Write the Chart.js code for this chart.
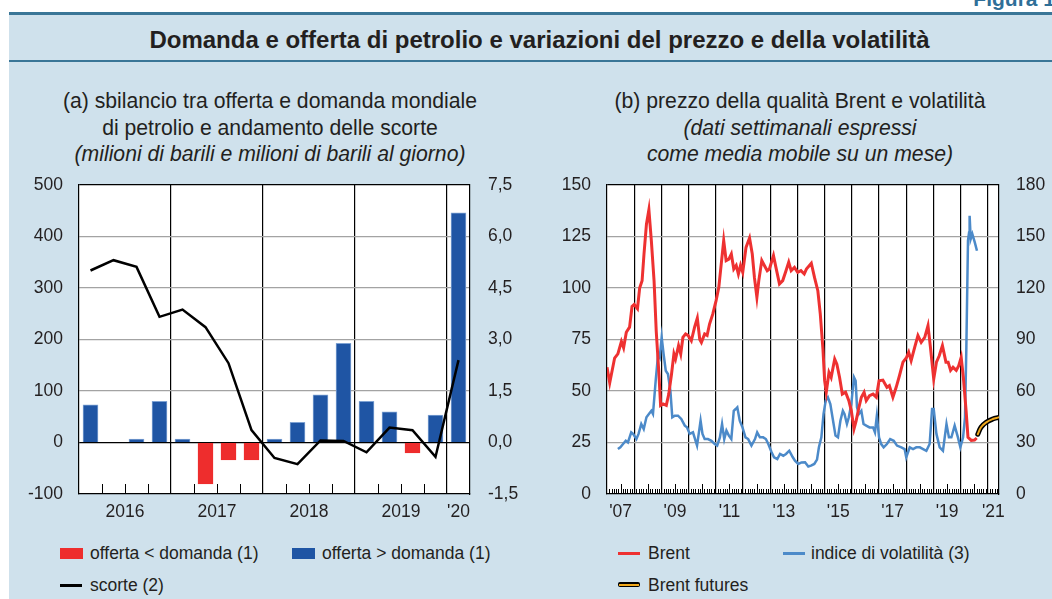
<!DOCTYPE html>
<html>
<head>
<meta charset="utf-8">
<script src="https://cdn.jsdelivr.net/npm/chart.js@4.4.1/dist/chart.umd.min.js"></script>
<style>
  body { margin: 0; width: 1052px; height: 599px; overflow: hidden; background: #fff;
         font-family: "Liberation Sans", Arial, sans-serif; color: #231f20; position: relative; }
  #panel { position: absolute; left: 9px; top: 12px; right: 0; bottom: 0; background: #cfe1ec;
           border-top: 3px solid #3a7697; z-index: 0; }
  #fig { position: absolute; right: -3px; top: -13px; font-weight: bold; font-size: 21px; color: #2f6f98; z-index: 1; }
  #title { position: absolute; left: 27px; right: 0; top: 26px; text-align: center; z-index: 1;
           font-weight: bold; font-size: 24px; line-height: 28px; }
  #rule { position: absolute; left: 9px; right: 0; top: 60px; height: 2px; background: #3a7697; z-index: 1; }
  .sub { position: absolute; top: 88px; text-align: center; font-size: 21.2px; line-height: 26.5px; z-index: 1; }
  .sub i { font-style: italic; }
  canvas { position: absolute; z-index: 3; }
  .plot { position: absolute; background-color: #ffffff; z-index: 2; }
  .leg { position: absolute; font-size: 17.5px; line-height: 20px; white-space: nowrap; z-index: 1; }
  .sw { position: absolute; z-index: 1; }
</style>
</head>
<body>
<div id="panel"></div>
<div id="fig">Figura 1</div>
<div id="title">Domanda e offerta di petrolio e variazioni del prezzo e della volatilità</div>
<div id="rule"></div>

<div class="sub" style="left:0;width:540px">(a) sbilancio tra offerta e domanda mondiale<br>di petrolio e andamento delle scorte<br><i>(milioni di barili e milioni di barili al giorno)</i></div>
<div class="sub" style="left:560px;width:480px">(b) prezzo della qualità Brent e volatilità<br><i>(dati settimanali espressi<br>come media mobile su un mese)</i></div>

<div class="plot" id="plotA"></div>
<div class="plot" id="plotB"></div>
<canvas id="left" width="540" height="370" style="left:0;top:170px"></canvas>
<canvas id="right" width="512" height="370" style="left:540px;top:170px"></canvas>

<!-- legends -->
<div class="sw" style="left:60px;top:548px;width:23px;height:11px;background:#ee2d2d"></div>
<div class="leg" style="left:90px;top:543px">offerta &lt; domanda (1)</div>
<div class="sw" style="left:292px;top:548px;width:23px;height:11px;background:#1f55a4"></div>
<div class="leg" style="left:322px;top:543px">offerta &gt; domanda (1)</div>
<div class="sw" style="left:60px;top:584px;width:22px;height:3px;background:#000"></div>
<div class="leg" style="left:90px;top:575px">scorte (2)</div>

<div class="sw" style="left:618px;top:552px;width:22px;height:3px;background:#ee3131"></div>
<div class="leg" style="left:648px;top:543px">Brent</div>
<div class="sw" style="left:783px;top:552px;width:22px;height:3px;background:#4c8ac9"></div>
<div class="leg" style="left:811px;top:543px">indice di volatilità (3)</div>
<div class="sw" style="left:618px;top:582px;width:22px;height:5px;background:#000;border-radius:2px"></div>
<div class="sw" style="left:619px;top:583.5px;width:20px;height:2px;background:#f0a81c"></div>
<div class="leg" style="left:648px;top:575px">Brent futures</div>

<script>
// ---- (a) quarterly balance (mb/d, right axis) and stocks (mb, left axis)
const quarters = ['I 2016', 'II 2016', 'III 2016', 'IV 2016',
                  'I 2017', 'II 2017', 'III 2017', 'IV 2017',
                  'I 2018', 'II 2018', 'III 2018', 'IV 2018',
                  'I 2019', 'II 2019', 'III 2019', 'IV 2019',
                  'I 2020'];
const balance = [1.10, null, 0.10, 1.20,
                 0.10, -1.21, -0.51, -0.51,
                 0.10, 0.59, 1.39, 2.89,
                 1.20, 0.89, -0.30, 0.80,
                 6.69];
const stocks = [334, 354, 341, 244,
                258, 224, 154, 24,
                -30, -42, 4, 3,
                -19, 29, 24, -28,
                160];
const yearLabelsA = { 1.5: '2016', 5.5: '2017', 9.5: '2018', 13.5: '2019', 16: "'20" };

// ---- (b) weekly Brent price (dollars), volatility index, futures
const brentDates = [
  2007.00, 2007.10, 2007.28, 2007.40, 2007.53, 2007.61, 2007.71, 2007.83, 2007.92,
  2008.00, 2008.12, 2008.20, 2008.29, 2008.36, 2008.45, 2008.54, 2008.63, 2008.73, 2008.81, 2008.91, 2008.97,
  2009.06, 2009.18, 2009.27, 2009.37, 2009.46, 2009.52, 2009.63, 2009.71, 2009.79, 2009.89, 2009.98,
  2010.10, 2010.22, 2010.32, 2010.41, 2010.47, 2010.59, 2010.68, 2010.77, 2010.89,
  2011.01, 2011.11, 2011.20, 2011.29, 2011.38, 2011.48, 2011.57, 2011.66, 2011.75, 2011.83, 2011.91, 2011.99,
  2012.11, 2012.24, 2012.34, 2012.42, 2012.51, 2012.58, 2012.69, 2012.79, 2012.89, 2012.97,
  2013.12, 2013.21, 2013.34, 2013.46, 2013.58, 2013.68, 2013.77, 2013.89,
  2014.01, 2014.13, 2014.25, 2014.33, 2014.51, 2014.63, 2014.75, 2014.84, 2014.94,
  2015.00, 2015.06, 2015.16, 2015.24, 2015.37, 2015.45, 2015.55, 2015.65, 2015.77, 2015.89, 2015.98,
  2016.08, 2016.16, 2016.26, 2016.35, 2016.45, 2016.53, 2016.65, 2016.78, 2016.90,
  2017.00, 2017.14, 2017.29, 2017.38, 2017.51, 2017.63, 2017.75, 2017.88,
  2018.00, 2018.09, 2018.18, 2018.31, 2018.43, 2018.55, 2018.68, 2018.80, 2018.89,
  2019.01, 2019.11, 2019.21, 2019.33, 2019.46, 2019.54, 2019.63, 2019.72, 2019.84, 2019.93,
  2020.02, 2020.10, 2020.20, 2020.27, 2020.39, 2020.51, 2020.59
];
const brentPrices = [
  61.5, 54, 66, 68, 74, 71, 78.5, 81, 91,
  92, 90, 100, 103.5, 116.5, 131, 138, 123, 103.5, 79, 58, 43,
  43.7, 43, 48.5, 58, 68, 65.5, 72, 68, 76, 77.7, 77,
  74.4, 81, 85.4, 75, 73.6, 77.7, 77, 82.5, 87.4,
  93.9, 100.3, 111.7, 123, 113.3, 114, 116.5, 109.2, 111, 106.8, 111, 107.6,
  119.7, 124.3, 116.5, 105, 95.5, 103.6, 113.3, 110.8, 108.4, 109.2,
  115.7, 110, 102, 103.6, 108.4, 112.5, 108.4, 110,
  107.6, 108.4, 106.8, 109.2, 112, 105, 98.7, 87.4, 70,
  55, 49.4, 59, 56.6, 65.5, 63, 56.6, 48.5, 49.4, 45.3, 40.5,
  31.6, 35.6, 42, 47, 49.4, 45.3, 47.7, 48.5, 47,
  55, 55.3, 51.8, 52.6, 47, 51.8, 57.4, 64,
  66, 68.8, 64.7, 71.2, 76.9, 73.6, 76, 81.7, 71.2,
  55.8, 64, 67, 72, 64, 64, 60, 61.5, 60, 62.3,
  66.3, 56.6, 40.5, 27.5, 26, 26.2, 27.2
];
const volDates = [
  2007.40, 2007.49, 2007.59, 2007.69, 2007.77, 2007.89, 2007.96,
  2008.08, 2008.16, 2008.26, 2008.35, 2008.45, 2008.54, 2008.63, 2008.69, 2008.79, 2008.88, 2008.94,
  2009.01, 2009.08, 2009.16, 2009.24, 2009.33, 2009.40, 2009.49, 2009.61, 2009.73, 2009.86, 2009.94,
  2010.04, 2010.16, 2010.31, 2010.44, 2010.51, 2010.59, 2010.71, 2010.84, 2010.96,
  2011.05, 2011.15, 2011.23, 2011.31, 2011.39, 2011.48, 2011.57, 2011.66, 2011.73, 2011.79, 2011.88, 2011.98,
  2012.09, 2012.19, 2012.31, 2012.44, 2012.52, 2012.62, 2012.74, 2012.84, 2012.93,
  2013.05, 2013.14, 2013.26, 2013.36, 2013.48, 2013.58, 2013.70, 2013.83, 2013.91,
  2014.03, 2014.15, 2014.28, 2014.40, 2014.50, 2014.62, 2014.72, 2014.79, 2014.88, 2014.96,
  2015.04, 2015.12, 2015.21, 2015.31, 2015.40, 2015.49, 2015.58, 2015.67, 2015.73, 2015.82, 2015.89, 2015.98,
  2016.08, 2016.14, 2016.19, 2016.26, 2016.35, 2016.43, 2016.53, 2016.65, 2016.78, 2016.85, 2016.92,
  2017.00, 2017.08, 2017.17, 2017.29, 2017.41, 2017.54, 2017.66, 2017.82, 2017.94,
  2018.00, 2018.13, 2018.25, 2018.37, 2018.50, 2018.62, 2018.74, 2018.86, 2018.95,
  2019.01, 2019.11, 2019.23, 2019.35, 2019.48, 2019.57, 2019.66, 2019.78, 2019.90, 2019.99,
  2020.09, 2020.16, 2020.21, 2020.27, 2020.31, 2020.33, 2020.37, 2020.43, 2020.52, 2020.60
];
const volIndex = [
  26.2, 27.2, 29.1, 31, 30, 35.9, 35,
  32, 35, 40.8, 37.9, 44.7, 46.6, 48.5, 46.6, 66, 81.6, 79.6,
  91.3, 81.6, 71.8, 69.9, 60.2, 44.7, 45.6, 45.6, 43.7, 39.8, 38.8,
  35, 35.9, 28.2, 42.7, 35, 32, 32, 31, 29.1,
  28.2, 33, 40.8, 32, 36.9, 34, 32, 48.5, 49.5, 50.5, 42.7, 38.8,
  33, 32, 28.2, 32, 35.9, 33, 33, 32, 29.1,
  24.3, 21.4, 20.4, 23.3, 22.3, 23.3, 25.2, 21.4, 19.4,
  17.5, 18.4, 18.5, 16, 16.5, 17.5, 20, 27.2, 33, 46.6,
  54.4, 56.3, 52.4, 42.7, 34, 33, 42.7, 48.5, 46.6, 40.8, 44.7, 52.4,
  68, 66, 50.5, 46.6, 48.5, 40.8, 39.8, 38.8, 38.8, 35.9, 45.6,
  33, 29.1, 27.2, 29.1, 32, 31, 28.2, 27.2, 26.2,
  21.4, 27.2, 26.2, 27.2, 27.2, 26.2, 25.2, 29.1, 49.5,
  49.5, 35, 27.2, 25.2, 40.8, 33, 33, 39.8, 33, 27.2,
  33, 44.7, 85.4, 147.6, 152.4, 162.1, 148.5, 151.5, 146.6, 141.7
];
const futuresDates = [2020.63, 2020.75, 2020.94, 2021.18, 2021.40];
const futuresPrices = [29, 32.4, 34.8, 36.4, 37.2];
const yearLabelsB = { 2007.5: "'07", 2009.5: "'09", 2011.5: "'11", 2013.5: "'13",
                      2015.5: "'15", 2017.5: "'17", 2019.5: "'19", 2021.2: "'21" };

const RED = '#ee3131', BLUE = '#4c8ac9', BAR_RED = '#ee2d2d', BAR_BLUE = '#1f55a4';
const GRID = '#a3a3a3';
const tickFont = { family: 'Liberation Sans', size: 17.5 };

// short tick marks drawn inside the plot, above the x axis
const innerTicks = {
  id: 'innerTicks',
  afterDatasetsDraw(chart, args, opts) {
    const { ctx, chartArea, scales } = chart;
    ctx.save();
    ctx.strokeStyle = '#000';
    ctx.lineWidth = 1;
    opts.values.forEach((v, i) => {
      const px = Math.round(scales.x.getPixelForValue(v)) + 0.5;
      ctx.beginPath();
      ctx.moveTo(px, chartArea.bottom);
      ctx.lineTo(px, chartArea.bottom - opts.lengths[i]);
      ctx.stroke();
    });
    ctx.restore();
  }
};

function zip(xs, ys) { return xs.map((x, i) => ({ x: x, y: ys[i] })); }
// fixed axis sizes so the plot frame lands where the original has it
function fixWidth(w) { return s => { s.width = w; s.paddingTop = 0; s.paddingBottom = 0; }; }
function fixHeight(h) { return s => { s.height = h; }; }
function tickVal(c) { return c.tick ? c.tick.value : null; }

// white box under the canvas, sized from the chart's own plot area
function whitePlot(chart, id) {
  const a = chart.chartArea, cv = chart.canvas;
  const el = document.getElementById(id);
  el.style.left = (cv.offsetLeft + a.left) + 'px';
  el.style.top = (cv.offsetTop + a.top) + 'px';
  el.style.width = (a.right - a.left) + 'px';
  el.style.height = (a.bottom - a.top) + 'px';
}

// ---------- chart (a)
const qTicks = [], qLens = [];
for (let k = 0; k < 16; k++) {
  if (k % 4 !== 3) { qTicks.push(k + 0.5); qLens.push(10); }
}
const yearBoundsA = [3.5, 7.5, 11.5, 15.5];

const chartA = new Chart(document.getElementById('left'), {
  data: {
    datasets: [
      {
        type: 'line', label: 'scorte (2)', yAxisID: 'y', order: 0,
        data: zip(quarters.map((q, i) => i), stocks),
        borderColor: '#000', borderWidth: 2.5, pointRadius: 0, tension: 0
      },
      {
        type: 'bar', label: 'sbilancio (1)', yAxisID: 'y1', order: 1,
        data: zip(quarters.map((q, i) => i), balance),
        backgroundColor: c => (c.raw && c.raw.y < 0 ? BAR_RED : BAR_BLUE),
        borderColor: c => (c.raw && c.raw.y < 0 ? BAR_RED : '#7ea2d3'),
        borderWidth: 1, barThickness: 15
      }
    ]
  },
  options: {
    responsive: false, animation: false, devicePixelRatio: 1,
    layout: { padding: { top: 15, left: 0, right: 0, bottom: 0 } },
    plugins: { legend: { display: false }, tooltip: { enabled: false },
               innerTicks: { values: qTicks, lengths: qLens } },
    scales: {
      x: {
        type: 'linear', min: -0.5, max: 16.5, offset: false,
        afterBuildTicks: s => { s.ticks = [1.5, 3.5, 5.5, 7.5, 9.5, 11.5, 13.5, 15.5, 16].map(v => ({ value: v })); },
        afterFit: fixHeight(46),
        grid: { offset: false, drawTicks: false, lineWidth: 1.2,
                color: c => (yearBoundsA.includes(tickVal(c)) ? '#000' : 'transparent') },
        border: { display: true, color: '#000', width: 1.2 },
        ticks: { autoSkip: false, maxRotation: 0, padding: 8, color: '#231f20', font: tickFont,
                 callback: v => yearLabelsA[v] || '' }
      },
      y: {
        position: 'left', min: -100, max: 500,
        afterFit: fixWidth(79),
        grid: { drawTicks: false, lineWidth: 1.2,
                color: c => {
                  const v = tickVal(c);
                  return v === 0 || v === 500 ? '#000' : v === -100 ? 'transparent' : GRID;
                } },
        border: { display: true, color: '#000', width: 1.2 },
        ticks: { stepSize: 100, padding: 16, color: '#231f20', font: tickFont }
      },
      y1: {
        position: 'right', min: -1.5, max: 7.5,
        afterFit: fixWidth(70),
        grid: { drawOnChartArea: false, drawTicks: false },
        border: { display: true, color: '#000', width: 1.2 },
        ticks: { stepSize: 1.5, padding: 18, color: '#231f20', font: tickFont,
                 callback: v => v.toFixed(1).replace('.', ',') }
      }
    }
  },
  plugins: [innerTicks]
});
whitePlot(chartA, 'plotA');

// ---------- chart (b)
const mTicks = [], mLens = [];
for (let m = 1; m < 14 * 12 + 5; m++) {
  if (m % 12 !== 0) { mTicks.push(2007 + m / 12); mLens.push(m % 12 === 6 ? 10 : 5); }
}

const chartB = new Chart(document.getElementById('right'), {
  type: 'line',
  data: {
    datasets: [
      { label: 'Brent', yAxisID: 'y', data: zip(brentDates, brentPrices),
        borderColor: RED, borderWidth: 3, pointRadius: 0, tension: 0 },
      { label: 'indice di volatilità (3)', yAxisID: 'y1', data: zip(volDates, volIndex),
        borderColor: BLUE, borderWidth: 2.5, pointRadius: 0, tension: 0 },
      { label: 'Brent futures', yAxisID: 'y', data: zip(futuresDates, futuresPrices),
        borderColor: '#f0a81c', borderWidth: 2, pointRadius: 0, tension: 0.4, borderCapStyle: 'round' },
      { label: 'Brent futures (bordo)', yAxisID: 'y', data: zip(futuresDates, futuresPrices),
        borderColor: '#000', borderWidth: 5, pointRadius: 0, tension: 0.4, borderCapStyle: 'round' }
    ]
  },
  options: {
    responsive: false, animation: false, devicePixelRatio: 1,
    layout: { padding: { top: 15, left: 0, right: 0, bottom: 0 } },
    plugins: { legend: { display: false }, tooltip: { enabled: false },
               innerTicks: { values: mTicks, lengths: mLens } },
    scales: {
      x: {
        type: 'linear', min: 2007, max: 2021.41,
        afterBuildTicks: s => {
          const t = [];
          for (let y = 2008; y <= 2021; y++) t.push({ value: y });
          Object.keys(yearLabelsB).forEach(k => t.push({ value: +k }));
          t.sort((a, b) => a.value - b.value);
          s.ticks = t;
        },
        afterFit: fixHeight(46),
        grid: { drawTicks: false, lineWidth: 1.2,
                color: c => (Number.isInteger(tickVal(c)) ? '#000' : 'transparent') },
        border: { display: true, color: '#000', width: 1.2 },
        ticks: { autoSkip: false, maxRotation: 0, padding: 8, color: '#231f20', font: tickFont,
                 callback: v => yearLabelsB[v] || '' }
      },
      y: {
        position: 'left', min: 0, max: 150,
        afterFit: fixWidth(67),
        grid: { drawTicks: false, lineWidth: 1.2,
                color: c => {
                  const v = tickVal(c);
                  return v === 150 ? '#000' : v === 0 ? 'transparent' : GRID;
                } },
        border: { display: true, color: '#000', width: 1.2 },
        ticks: { stepSize: 25, padding: 16, color: '#231f20', font: tickFont }
      },
      y1: {
        position: 'right', min: 0, max: 180,
        afterFit: fixWidth(53),
        grid: { drawOnChartArea: false, drawTicks: false },
        border: { display: true, color: '#000', width: 1.2 },
        ticks: { stepSize: 30, padding: 17, color: '#231f20', font: tickFont }
      }
    }
  },
  plugins: [innerTicks]
});
whitePlot(chartB, 'plotB');
</script>
</body>
</html>
